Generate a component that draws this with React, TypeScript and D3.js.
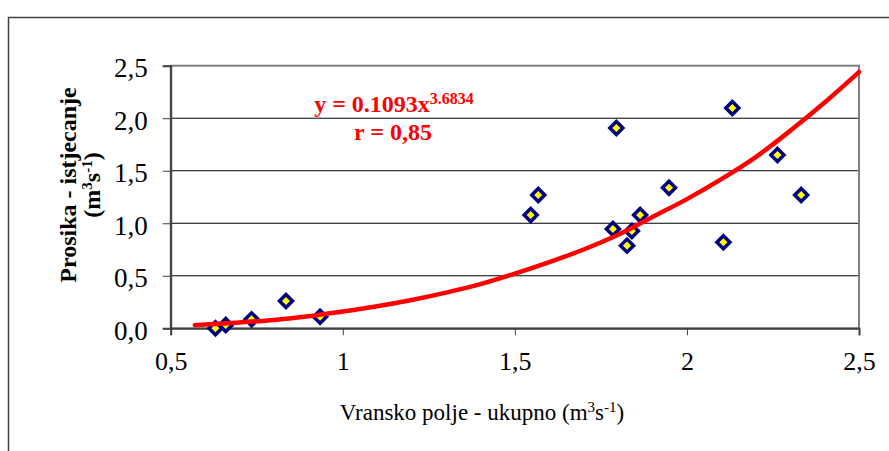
import { useEffect, useRef } from "react";
import * as d3 from "d3";

// Vransko polje (total) vs Prosika outflow, m3/s
const vranskoTotal = [0.63, 0.66, 0.735, 0.835, 0.934, 1.546, 1.568, 1.785, 1.795, 1.826, 1.84, 1.864, 1.948, 2.106, 2.132, 2.263, 2.332];
const prosikaOutflow = [0.0, 0.031, 0.085, 0.26, 0.11, 1.078, 1.269, 0.945, 1.907, 0.787, 0.926, 1.078, 1.339, 0.819, 2.097, 1.65, 1.269];

// trend curve
const trendX = [0.57, 0.7, 0.8, 0.9, 1.0, 1.1, 1.2, 1.3, 1.4, 1.5, 1.6, 1.7, 1.8, 1.9, 2.0, 2.1, 2.2, 2.3, 2.4, 2.5];
const trendY = [0.03, 0.055, 0.08, 0.115, 0.16, 0.21, 0.27, 0.34, 0.42, 0.52, 0.63, 0.75, 0.89, 1.06, 1.23, 1.42, 1.63, 1.88, 2.15, 2.44];

const xTicks = [0.5, 1, 1.5, 2, 2.5];
const xTickLabels = ["0,5", "1", "1,5", "2", "2,5"];
const yTicks = [0, 0.5, 1, 1.5, 2, 2.5];
const yTickLabels = ["0,0", "0,5", "1,0", "1,5", "2,0", "2,5"];

const FONT = "'Liberation Serif', 'Times New Roman', serif";

export default function App() {
  const svgRef = useRef<SVGSVGElement | null>(null);

  useEffect(() => {
    if (!svgRef.current) return;
    const width = 889;
    const height = 451;
    const left = 170.7, right = 859, top = 65.7, bottom = 328.3;

    const svg = d3.select(svgRef.current);
    svg.selectAll("*").remove();
    svg.attr("width", width).attr("height", height);

    svg.append("rect").attr("width", width).attr("height", height).attr("fill", "#fff");
    // outer chart frame
    svg.append("rect")
      .attr("x", 8.5).attr("y", 17.5)
      .attr("width", 1000).attr("height", 1000)
      .attr("fill", "none").attr("stroke", "#404040").attr("stroke-width", 1.5);

    const x = d3.scaleLinear().domain([0.5, 2.5]).range([left, right]);
    const y = d3.scaleLinear().domain([0, 2.5]).range([bottom, top]);

    // gridlines
    svg.append("g")
      .selectAll("line")
      .data(yTicks.slice(1, -1))
      .join("line")
      .attr("x1", left).attr("x2", right)
      .attr("y1", d => y(d)).attr("y2", d => y(d))
      .attr("stroke", "#000").attr("stroke-width", 1);

    // plot border
    svg.append("rect")
      .attr("x", left).attr("y", top)
      .attr("width", right - left).attr("height", bottom - top)
      .attr("fill", "none").attr("stroke", "#808080").attr("stroke-width", 2);

    const yAxis = svg.append("g")
      .attr("transform", `translate(${left},0)`)
      .call(d3.axisLeft(y).tickValues(yTicks).tickSize(8).tickPadding(15)
        .tickFormat((_, i) => yTickLabels[i]));
    yAxis.select(".domain").attr("stroke", "#404040").attr("stroke-width", 2);
    yAxis.selectAll(".tick line").attr("stroke", "#404040");
    yAxis.selectAll("text")
      .attr("font-family", FONT).attr("font-size", 27).attr("fill", "#000").attr("dy", "0.4em");

    const xAxis = svg.append("g")
      .attr("transform", `translate(0,${bottom})`)
      .call(d3.axisBottom(x).tickValues(xTicks).tickSize(7).tickPadding(16)
        .tickFormat((_, i) => xTickLabels[i]));
    xAxis.select(".domain").attr("stroke", "#404040").attr("stroke-width", 2);
    xAxis.selectAll(".tick line").attr("stroke", "#404040");
    xAxis.selectAll("text")
      .attr("font-family", FONT).attr("font-size", 26).attr("fill", "#000");

    // markers
    const pts = vranskoTotal.map((v, i) => [v, prosikaOutflow[i]] as [number, number]);
    const s = 6.5;
    svg.append("g")
      .selectAll("path")
      .data(pts)
      .join("path")
      .attr("d", d => {
        const cx = x(d[0]), cy = y(d[1]);
        return `M${cx},${cy - s}L${cx + s},${cy}L${cx},${cy + s}L${cx - s},${cy}Z`;
      })
      .attr("fill", "#ffff00").attr("stroke", "#000080").attr("stroke-width", 3.5)
      .attr("stroke-linejoin", "miter");

    // trend curve
    const trend = trendX.map((v, i) => [v, trendY[i]] as [number, number]);
    const line = d3.line<[number, number]>()
      .x(d => x(d[0]))
      .y(d => y(d[1]))
      .curve(d3.curveMonotoneX);
    svg.append("path").datum(trend)
      .attr("d", line)
      .attr("fill", "none").attr("stroke", "#ff0000").attr("stroke-width", 4.5)
      .attr("stroke-linecap", "round");

    // equation label
    const eq = svg.append("text")
      .attr("x", 394).attr("y", 112)
      .attr("text-anchor", "middle")
      .attr("font-family", FONT).attr("font-size", 24).attr("font-weight", 700)
      .attr("fill", "#ff0000");
    eq.append("tspan").text("y = 0.1093x");
    eq.append("tspan").attr("dy", -8).attr("font-size", 16).text("3.6834");
    svg.append("text")
      .attr("x", 393).attr("y", 140)
      .attr("text-anchor", "middle")
      .attr("font-family", FONT).attr("font-size", 24).attr("font-weight", 700)
      .attr("fill", "#ff0000")
      .text("r = 0,85");

    // x axis title
    const xt = svg.append("text")
      .attr("x", 482).attr("y", 420)
      .attr("text-anchor", "middle")
      .attr("font-family", FONT).attr("font-size", 23).attr("fill", "#000");
    xt.append("tspan").text("Vransko polje - ukupno (m");
    xt.append("tspan").attr("dy", -8).attr("font-size", 15).text("3");
    xt.append("tspan").attr("dy", 8).text("s");
    xt.append("tspan").attr("dy", -8).attr("font-size", 15).text("-1");
    xt.append("tspan").attr("dy", 8).text(")");

    // y axis title (two lines)
    const yt = svg.append("g").attr("transform", "translate(0,185) rotate(-90)");
    yt.append("text")
      .attr("x", 0).attr("y", 76)
      .attr("text-anchor", "middle")
      .attr("font-family", FONT).attr("font-size", 24).attr("font-weight", 700)
      .text("Prosika - istjecanje");
    const yt2 = yt.append("text")
      .attr("x", 0).attr("y", 100)
      .attr("text-anchor", "middle")
      .attr("font-family", FONT).attr("font-size", 24).attr("font-weight", 700);
    yt2.append("tspan").text("(m");
    yt2.append("tspan").attr("dy", -8).attr("font-size", 15).text("3");
    yt2.append("tspan").attr("dy", 8).text("s");
    yt2.append("tspan").attr("dy", -8).attr("font-size", 15).text("-1");
    yt2.append("tspan").attr("dy", 8).text(")");
  }, []);

  return <svg ref={svgRef} style={{ position: "absolute", left: 0, top: 0, display: "block" }} />;
}
